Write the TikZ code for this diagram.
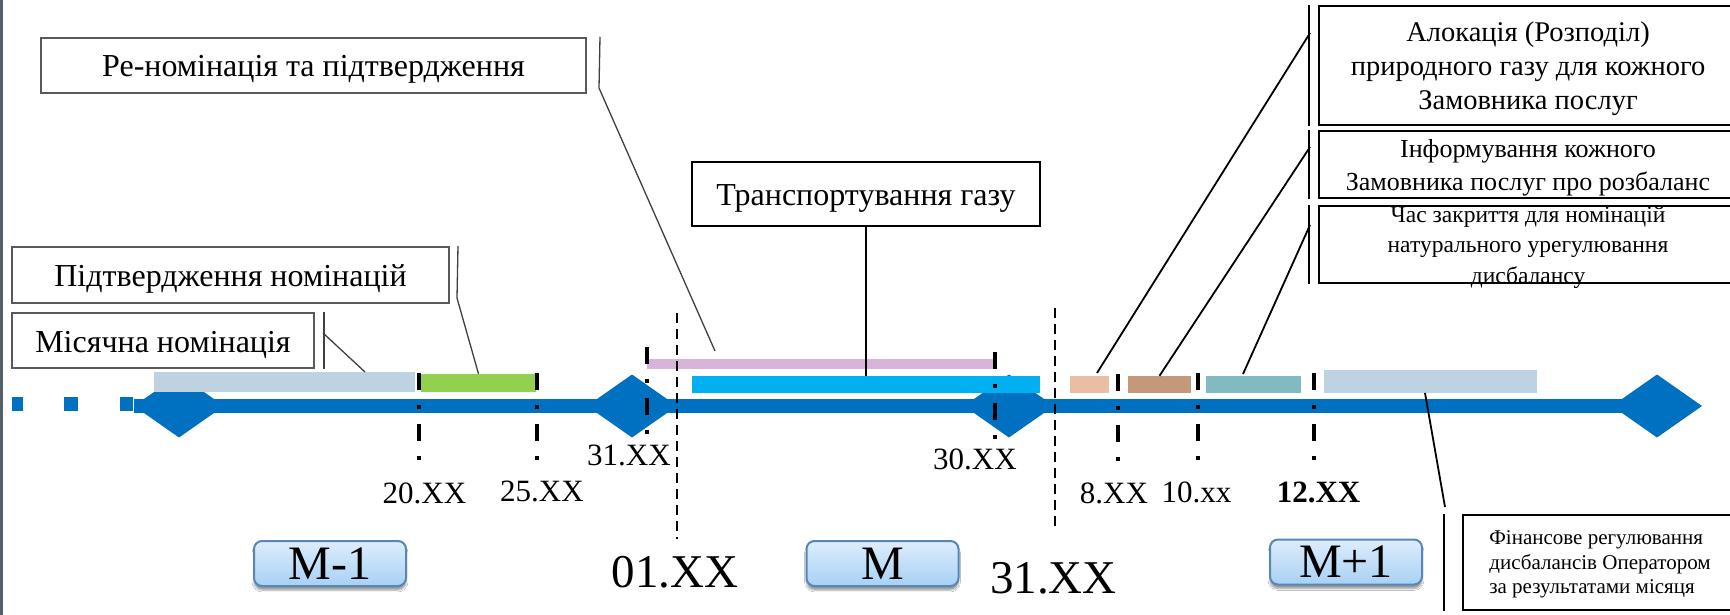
\documentclass[tikz,border=0pt]{standalone}
\usepackage{fontspec}
\setmainfont{Liberation Serif}
\usetikzlibrary{shadows.blur}

\newlength{\du}
\setlength{\du}{10pt}

\definecolor{tlblue}{rgb}{0.000000, 0.439216, 0.752941}
\definecolor{mnfill}{rgb}{0.741176, 0.827451, 0.882353}
\definecolor{cnfill}{rgb}{0.572549, 0.815686, 0.313725}
\definecolor{renomfill}{rgb}{0.850980, 0.705882, 0.854902}
\definecolor{transfill}{rgb}{0.000000, 0.690196, 0.941176}
\definecolor{allocfill}{rgb}{0.913725, 0.745098, 0.635294}
\definecolor{infofill}{rgb}{0.768627, 0.596078, 0.482353}
\definecolor{closefill}{rgb}{0.509804, 0.729412, 0.756863}
\definecolor{calloutgray}{rgb}{0.350000, 0.350000, 0.350000}
\definecolor{leadgray}{rgb}{0.250000, 0.250000, 0.250000}
\definecolor{monthedge}{rgb}{0.341176, 0.529412, 0.709804}
\definecolor{monthtop}{rgb}{0.870588, 0.929412, 0.984314}
\definecolor{monthbot}{rgb}{0.654902, 0.819608, 0.960784}
\definecolor{edgegray}{rgb}{0.320000, 0.380000, 0.400000}

\tikzset{
  callbox/.style={draw=calloutgray, line width=0.2\du, fill=white, inner sep=0pt,
    text height=23pt, text depth=0pt, font=\fontsize{32}{38}\selectfont},
  notebox/.style={draw=black, line width=0.22\du, fill=white, inner sep=0pt,
    align=center, text depth=0pt, minimum width=41.8\du},
  bar/.style={inner sep=0pt, draw=none},
  monthbox/.style={draw=monthedge, line width=0.2\du, rounded corners=0.8\du,
    top color=monthtop, bottom color=monthbot, minimum width=15.2\du,
    minimum height=4.5\du, inner sep=0pt, text height=31.7pt, text depth=0pt,
    font=\fontsize{48}{48}\selectfont,
    blur shadow={shadow xshift=0pt, shadow yshift=-0.4\du, shadow blur steps=6}},
  daytick/.style={line width=0.35\du, line cap=butt,
    dash pattern=on 1.7\du off 1.5\du on 0.4\du off 1.5\du},
  monthsep/.style={line width=0.25\du, dash pattern=on 1.0\du off 0.6\du},
  leader/.style={draw=leadgray, line width=0.13\du},
  pointer/.style={draw=black, line width=0.18\du},
  daylabel/.style={anchor=base, inner sep=0pt, font=\fontsize{31}{31}\selectfont},
  datelabel/.style={anchor=base, inner sep=0pt, font=\fontsize{47}{47}\selectfont},
}

\begin{document}
\begin{tikzpicture}
\pgftransformxscale{1.000000}
\pgftransformyscale{-1.000000}
\useasboundingbox (0\du,0\du) rectangle (173\du,61.5\du);
\clip (0\du,0\du) rectangle (173\du,61.5\du);
\fill[white] (0\du,0\du) rectangle (173\du,61.5\du);
\fill[edgegray] (0\du,0\du) rectangle (0.3\du,61.5\du);

% time axis
\fill[tlblue] (1.2\du,39.7\du) rectangle (2.3\du,41.1\du);
\fill[tlblue] (6.4\du,39.7\du) rectangle (7.8\du,41.1\du);
\fill[tlblue] (12.0\du,39.7\du) rectangle (13.3\du,41.1\du);
\fill[tlblue] (13.4\du,39.9\du) rectangle (165.7\du,41.3\du);
\fill[tlblue] (13.4\du,40.6\du)--(17.9\du,37.45\du)--(22.4\du,40.6\du)--(17.9\du,43.75\du)--cycle;
\fill[tlblue] (58.7\du,40.6\du)--(63.2\du,37.45\du)--(67.7\du,40.6\du)--(63.2\du,43.75\du)--cycle;
\fill[tlblue] (96.4\du,40.6\du)--(100.9\du,37.45\du)--(105.4\du,40.6\du)--(100.9\du,43.75\du)--cycle;
\fill[tlblue] (161.2\du,40.6\du)--(165.7\du,37.45\du)--(170.2\du,40.6\du)--(165.7\du,43.75\du)--cycle;

% period bars
\node[bar, fill=mnfill, minimum width=26.1\du, minimum height=2.0\du] (mnBar) at (28.45\du,38.2\du) {};
\node[bar, fill=cnfill, minimum width=11.5\du, minimum height=1.8\du] (cnBar) at (47.85\du,38.3\du) {};
\node[bar, fill=renomfill, minimum width=34.8\du, minimum height=1.0\du] (renomBar) at (82.1\du,36.4\du) {};
\node[bar, fill=transfill, minimum width=34.8\du, minimum height=1.7\du] (transBar) at (86.6\du,38.45\du) {};
\node[bar, fill=allocfill, minimum width=3.9\du, minimum height=1.7\du] (allocBar) at (108.95\du,38.45\du) {};
\node[bar, fill=infofill, minimum width=6.3\du, minimum height=1.7\du] (infoBar) at (115.95\du,38.45\du) {};
\node[bar, fill=closefill, minimum width=9.5\du, minimum height=1.7\du] (closeBar) at (125.35\du,38.45\du) {};
\node[bar, fill=mnfill, minimum width=21.3\du, minimum height=2.3\du] (finBar) at (143.05\du,38.15\du) {};

% callouts
\node[callbox, minimum width=54.5\du, minimum height=5.55\du] (renom) at (31.35\du,6.55\du) {Ре-номінація та підтвердження};
\node[callbox, minimum width=43.7\du, minimum height=5.6\du] (cnom) at (23.05\du,27.5\du) {Підтвердження номінацій};
\node[callbox, minimum width=30.2\du, minimum height=5.5\du] (mnom) at (16.3\du,34.05\du) {Місячна номінація};
\node[callbox, draw=black, minimum width=34.8\du, minimum height=6.4\du] (trans) at (86.6\du,19.4\du) {Транспортування газу};
\node[notebox, minimum height=11.9\du, font=\fontsize{28.5}{34}\selectfont] (aloc) at (152.8\du,6.55\du) {Алокація (Розподіл)\\природного газу для кожного\\Замовника послуг};
\node[notebox, minimum height=6.7\du, font=\fontsize{26}{33}\selectfont] (info) at (152.8\du,16.45\du) {Інформування кожного\\Замовника послуг про розбаланс};
\node[notebox, minimum height=7.7\du, font=\fontsize{23.5}{30.5}\selectfont] (close) at (152.8\du,24.45\du) {Час закриття для номінацій\\натурального урегулювання\\дисбалансу};
\node[notebox, align=left, minimum width=27.4\du, minimum height=9.5\du, font=\fontsize{21}{24.5}\selectfont] (fin) at (160\du,56.25\du) {Фінансове регулювання\\дисбалансів Оператором\\за результатами місяця};

\coordinate (renomKnee) at (59.9\du,8.8\du);
\coordinate (renomTip) at (71.5\du,35.1\du);
\coordinate (cnomKnee) at (45.7\du,29.8\du);
\coordinate (mnomKnee) at (32.3\du,33.3\du);
\coordinate (mnTip) at (36.5\du,37.2\du);
\coordinate (alocKnee) at (131\du,3.3\du);
\coordinate (allocTip) at (109.7\du,37.3\du);
\coordinate (infoKnee) at (131\du,14.7\du);
\coordinate (closeKnee) at (131\du,22.5\du);
\coordinate (closeTip) at (124.3\du,37.4\du);
\coordinate (finTip) at (142.5\du,39.3\du);
\coordinate (finKnee) at (144.5\du,50.7\du);

\draw[leader] ([xshift=1.3\du]renom.north east) -- (renomKnee) -- (renomTip);
\draw[leader] ([xshift=0.8\du]cnom.north east) -- (cnomKnee) -- (cnBar.north);
\draw[leader] ([xshift=0.9\du]mnom.north east) -- ([xshift=0.9\du]mnom.south east);
\draw[leader] (mnomKnee) -- (mnTip);
\draw[pointer] (trans.south) -- (transBar.north);
\draw[pointer] ([xshift=-0.9\du]aloc.north west) -- ([xshift=-0.9\du]aloc.south west);
\draw[pointer] ([xshift=-0.9\du]info.north west) -- ([xshift=-0.9\du]info.south west);
\draw[pointer] ([xshift=-0.9\du]close.north west) -- ([xshift=-0.9\du]close.south west);
\draw[pointer] (alocKnee) -- (allocTip);
\draw[pointer] (infoKnee) -- (infoBar.north);
\draw[pointer] (closeKnee) -- (closeTip);
\draw[pointer] (finTip) -- (finKnee);
\draw[pointer] ([xshift=-1.8\du]fin.north west) -- ([xshift=-1.8\du]fin.south west);

% day ticks and month borders
\draw[daytick] (41.9\du,37.3\du) -- (41.9\du,46.1\du);
\draw[daytick] (53.7\du,37.3\du) -- (53.7\du,46.1\du);
\draw[daytick] (64.7\du,34.7\du) -- (64.7\du,43.5\du);
\draw[daytick] (99.5\du,35.2\du) -- (99.5\du,44.0\du);
\draw[daytick] (111.8\du,37.4\du) -- (111.8\du,46.2\du);
\draw[daytick] (119.8\du,37.3\du) -- (119.8\du,46.1\du);
\draw[daytick] (131.4\du,37.3\du) -- (131.4\du,46.1\du);
\draw[monthsep] (67.7\du,31.3\du) -- (67.7\du,53.9\du);
\draw[monthsep] (105.5\du,30.8\du) -- (105.5\du,53.2\du);

% dates
\node[daylabel] (d20) at (42.45\du,50.3\du) {20.XX};
\node[daylabel] (d25) at (54.2\du,50.1\du) {25.XX};
\node[daylabel] (d31a) at (62.9\du,46.5\du) {31.XX};
\node[daylabel] (d30) at (97.5\du,46.9\du) {30.XX};
\node[daylabel] (d08) at (111.4\du,50.3\du) {8.XX};
\node[daylabel] (d10) at (119.65\du,50.2\du) {10.xx};
\node[daylabel, font=\fontsize{31}{31}\selectfont\bfseries] (d12) at (131.85\du,50.2\du) {12.XX};
\node[datelabel] (d01) at (67.5\du,58.7\du) {01.XX};
\node[datelabel] (d31b) at (105.35\du,59.3\du) {31.XX};

% months
\node[monthbox] (mPrev) at (33\du,56.35\du) {M-1};
\node[monthbox] (mCur) at (88.25\du,56.35\du) {M};
\node[monthbox] (mNext) at (134.6\du,56.2\du) {M+1};
\end{tikzpicture}
\end{document}
